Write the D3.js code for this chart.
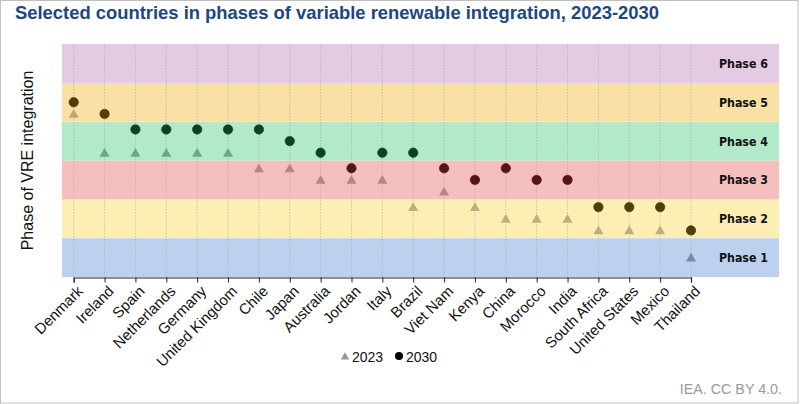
<!DOCTYPE html>
<html><head><meta charset="utf-8">
<script src="https://cdn.jsdelivr.net/npm/d3@7"></script>
<style>body{margin:0;background:#fff;}svg{display:block;font-family:"Liberation Sans",Arial,sans-serif;}</style>
</head><body><svg id="c" width="800" height="404"></svg>
<script>
const countries = ["Denmark","Ireland","Spain","Netherlands","Germany","United Kingdom","Chile","Japan","Australia","Jordan","Italy","Brazil","Viet Nam","Kenya","China","Morocco","India","South Africa","United States","Mexico","Thailand"];
const values2023 = [4.2,3.2,3.2,3.2,3.2,3.2,2.8,2.8,2.5,2.5,2.5,1.8,2.2,1.8,1.5,1.5,1.5,1.2,1.2,1.2,0.5];
const values2030 = [4.5,4.2,3.8,3.8,3.8,3.8,3.8,3.5,3.2,2.8,3.2,3.2,2.8,2.5,2.8,2.5,2.5,1.8,1.8,1.8,1.2];
const phases = ["Phase 1","Phase 2","Phase 3","Phase 4","Phase 5","Phase 6"];
const bandColors = ["#bdd1ef","#fdefb3","#f5bfbf","#b1e9c9","#f9e1a6","#e3cbe4"];
const dotColors = ["#4a5e80","#4b3f0c","#561414","#0b4220","#573c0b","#4a2a55"];
const triColors = ["#7589ad","#bbae80","#b98485","#6ea487","#baa87a","#a88aa8"];

const svg = d3.select("#c");
svg.append("rect").attr("x",0.5).attr("y",0.5).attr("width",797.5).attr("height",402.5).attr("fill","#fff").attr("stroke","#c0c0c0");

svg.append("text").attr("x",15).attr("y",19).attr("font-size",18.4).attr("font-weight","bold").attr("fill","#1d4780")
  .text("Selected countries in phases of variable renewable integration, 2023-2030");

const x = d3.scalePoint().domain(countries).range([73.7,691]);
const y = d3.scaleLinear().domain([0,6]).range([277,44]);
const bandLeft = 62, bandRight = 779;

svg.append("g").selectAll("rect").data(phases).join("rect")
  .attr("x",bandLeft).attr("width",bandRight-bandLeft)
  .attr("y",(d,i)=>y(i+1)).attr("height",(d,i)=>y(i)-y(i+1))
  .attr("fill",(d,i)=>bandColors[i]);

svg.append("g").selectAll("line").data(countries).join("line")
  .attr("x1",d=>x(d)).attr("x2",d=>x(d)).attr("y1",y(6)).attr("y2",y(0))
  .attr("stroke","#a8a8b8").attr("stroke-width",0.8).attr("stroke-dasharray","1.5,1.5").attr("opacity",0.8);

svg.append("g").selectAll("text").data(phases).join("text")
  .attr("x",768).attr("y",(d,i)=>(y(i)+y(i+1))/2+4.5)
  .attr("text-anchor","end").attr("font-family","'DejaVu Sans Condensed','DejaVu Sans',sans-serif")
  .attr("font-weight","bold").attr("font-size",12.3).attr("fill","#111").text(d=>d);

const ax = svg.append("g").attr("transform",`translate(0,${y(0)+0.5})`)
  .call(d3.axisBottom(x).tickSizeOuter(0).tickSize(5));
ax.select(".domain").attr("stroke","#222").attr("stroke-width",1.2);
ax.selectAll(".tick line").attr("stroke","#222");
ax.selectAll(".tick text").attr("font-family","'Liberation Sans',Arial,sans-serif").attr("font-size",15).attr("fill","#111")
  .attr("text-anchor","end").attr("dy",0).attr("transform","translate(4,9) rotate(-45)");

svg.append("text").attr("transform",`translate(33,${(y(0)+y(6))/2}) rotate(-90)`).attr("text-anchor","middle")
  .attr("font-size",16).attr("fill","#111").text("Phase of VRE integration");

const phaseOf = v => Math.min(5, Math.floor(v));
const tri = d3.symbol().type(d3.symbolTriangle).size(44);

svg.append("g").selectAll("path").data(countries).join("path")
  .attr("d",tri).attr("transform",(d,i)=>`translate(${x(d)},${y(values2023[i])+1})`)
  .attr("fill",(d,i)=>triColors[phaseOf(values2023[i])]);

svg.append("g").selectAll("circle").data(countries).join("circle")
  .attr("cx",d=>x(d)).attr("cy",(d,i)=>y(values2030[i])).attr("r",4.7)
  .attr("fill",(d,i)=>dotColors[phaseOf(values2030[i])])
  .attr("stroke",(d,i)=>d3.color(dotColors[phaseOf(values2030[i])]).darker(0.6)).attr("stroke-width",0.6);

const lg = svg.append("g");
lg.append("path").attr("d",d3.symbol().type(d3.symbolTriangle).size(30)).attr("transform","translate(345,357)").attr("fill","#999");
lg.append("text").attr("x",352).attr("y",362).attr("font-size",14).attr("fill","#111").text("2023");
lg.append("circle").attr("cx",399).attr("cy",356).attr("r",4).attr("fill","#000");
lg.append("text").attr("x",406).attr("y",362).attr("font-size",14).attr("fill","#111").text("2030");

svg.append("text").attr("x",782).attr("y",394).attr("text-anchor","end").attr("font-size",14.3).attr("fill","#9a9a9a").text("IEA. CC BY 4.0.");
</script></body></html>
